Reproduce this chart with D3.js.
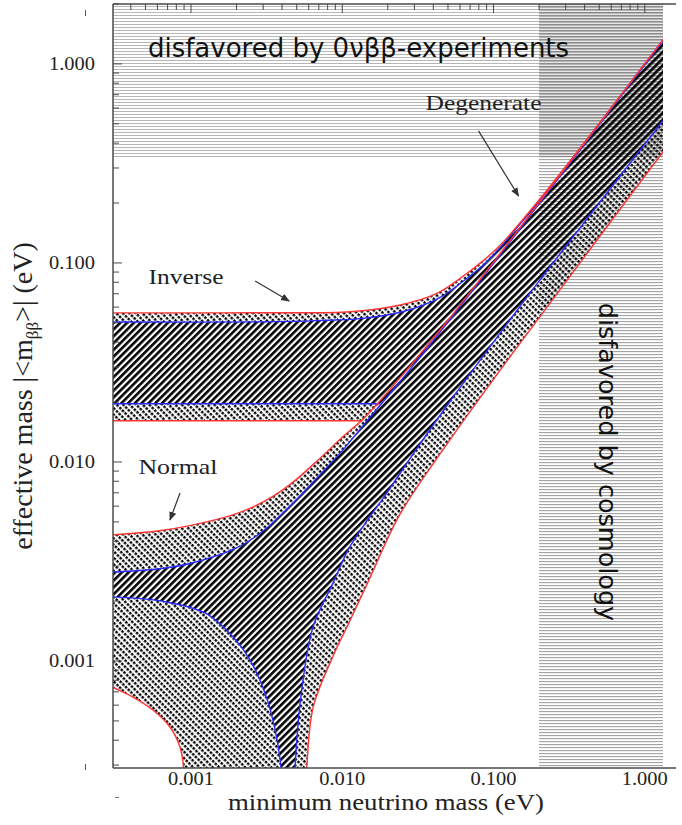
<!DOCTYPE html>
<html>
<head>
<meta charset="utf-8">
<script src="https://cdn.jsdelivr.net/npm/d3@7"></script>
<style>
  body { margin: 0; background: #fff; }
  svg { display: block; }
</style>
</head>
<body>
<script>
// Effective Majorana mass versus lightest neutrino mass (eV).
// Every boundary is a list of [minimum neutrino mass, effective mass] pairs.

// normal hierarchy, 3-sigma envelope (red)
const nhUpperRed = [[0.0003,0.0043],[0.0006,0.0045],[0.001,0.0048],[0.002,0.0055],[0.003,0.0063],[0.004,0.0072],[0.005,0.0082],[0.007,0.0103],[0.01,0.0133],[0.014,0.0167],[0.02,0.0225],[0.03,0.0322],[0.05,0.0515],[0.1,0.101],[0.2,0.201],[0.5,0.5],[1,1],[1.35,1.35]];
const nhLowerLeftRed = [[0.0003,0.00074],[0.000413,0.000659],[0.00056,0.000567],[0.000726,0.000466],[0.000845,0.00037],[0.000885,0.00031],[0.0009,0.0001]];
const nhLowerRightRed = [[0.0056,0.0001],[0.00586,0.00031],[0.00643,0.000587],[0.0087,0.00106],[0.011,0.00154],[0.015,0.00255],[0.0242,0.0055],[0.05,0.0125],[0.111,0.029],[0.2,0.053],[0.5,0.135],[1.35,0.37]];

// normal hierarchy, best-fit band (blue)
const nhUpperBlue = [[0.0003,0.0028],[0.0006,0.0029],[0.001,0.0031],[0.002,0.0037],[0.003,0.0045],[0.004,0.0055],[0.005,0.0065],[0.007,0.0085],[0.01,0.0114],[0.014,0.0155],[0.02,0.0214],[0.03,0.031],[0.05,0.0505],[0.1,0.0995],[0.2,0.198],[0.5,0.495],[1,0.99],[1.35,1.33]];
const nhLowerLeftBlue = [[0.0003,0.0021],[0.00069,0.00198],[0.00128,0.00172],[0.0019,0.00132],[0.00246,0.00101],[0.00319,0.00064],[0.00388,0.00032],[0.0041,0.0001]];
const nhLowerRightBlue = [[0.0046,0.0001],[0.0049,0.00031],[0.0053,0.00064],[0.0064,0.00148],[0.0087,0.00247],[0.011,0.00365],[0.014,0.00485],[0.0187,0.0066],[0.03,0.0112],[0.05,0.0195],[0.106,0.0425],[0.2,0.081],[0.5,0.2],[1.35,0.53]];

// inverse hierarchy (its lower edges end where the normal band takes over)
const ihUpperRed = [[0.0003,0.0561],[0.001,0.0561],[0.003,0.0562],[0.0113,0.0569],[0.0242,0.0615],[0.0426,0.0705],[0.0632,0.086],[0.0859,0.103],[0.111,0.123],[0.2,0.207],[0.5,0.503],[1.35,1.35]];
const ihLowerRed = [[0.0003,0.0161],[0.0136,0.0161]];
const ihUpperBlue = [[0.0003,0.0505],[0.003,0.0506],[0.0068,0.0513],[0.0131,0.0525],[0.0242,0.0565],[0.0426,0.066],[0.0578,0.077],[0.0859,0.098],[0.111,0.12],[0.2,0.205],[0.5,0.5],[1.35,1.345]];
const ihLowerBlue = [[0.0003,0.0196],[0.0178,0.0196]];

// excluded regions
const mbbLimit = 0.34;      // effective mass bound
const cosmoLimit = 0.2;     // minimum mass bound

// axes
const xDomain = [3.05e-4, 1.32];
const yDomain = [2.9e-4, 2.0];
const xTickValues = [0.001, 0.01, 0.1, 1];
const xTickLabels = ["0.001", "0.010", "0.100", "1.000"];
const yTickValues = [0.001, 0.01, 0.1, 1];
const yTickLabels = ["0.001", "0.010", "0.100", "1.000"];

// annotations: label anchor, arrow start, arrow end
const annotations = [
  {text: "Degenerate", at: [0.0859, 0.587], from: [0.0796, 0.4606], to: [0.1464, 0.2171], width: 116},
  {text: "Inverse",    at: [0.000927, 0.0784], from: [0.002655, 0.0812], to: [0.004457, 0.0644], width: 75},
  {text: "Normal",     at: [0.00082, 0.00871], from: [0.000846, 0.00699], to: [0.000726, 0.00511], width: 79}
];
const mbbText = {text: "disfavored by 0\u03bd\u03b2\u03b2-experiments", at: [0.000519, 1.084]};
const cosmoText = {text: "disfavored by cosmology", at: [0.495, 0.01]};

const W = 682, H = 825;
const plot = {left: 113, right: 663, top: 4, bottom: 768};

const x = d3.scaleLog().domain(xDomain).range([plot.left, plot.right]);
const y = d3.scaleLog().domain(yDomain).range([plot.bottom, plot.top]);

const svg = d3.select("body").append("svg").attr("width", W).attr("height", H);
const defs = svg.append("defs");

// horizontal-line hatches for the excluded regions
function lineHatch(id, rows) {
  const p = defs.append("pattern").attr("id", id)
    .attr("patternUnits", "userSpaceOnUse").attr("width", 8).attr("height", rows.length);
  rows.forEach((c, i) => p.append("rect").attr("y", i).attr("width", 8).attr("height", 1).attr("fill", c));
}
lineHatch("hatchMbb", ["#b6b6b6", "#ffffff", "#ffffff"]);
lineHatch("hatchCosmo", ["#a4a4a4", "#f2f2f2", "#ffffff"]);
lineHatch("hatchBoth", ["#8c8c8c", "#b4b4b4", "#e6e6e6"]);

// rising diagonal stripes (best fit) and falling dotted diagonals (3 sigma)
const stripes = defs.append("pattern").attr("id", "stripes")
  .attr("patternUnits", "userSpaceOnUse").attr("width", 4.8).attr("height", 4.8)
  .attr("patternTransform", "rotate(-45)");
stripes.append("rect").attr("width", 4.8).attr("height", 2.6).attr("fill", "#000");

const dots = defs.append("pattern").attr("id", "dots")
  .attr("patternUnits", "userSpaceOnUse").attr("width", 3.8).attr("height", 4.6)
  .attr("patternTransform", "rotate(45)");
dots.append("rect").attr("width", 2.5).attr("height", 2.4).attr("fill", "#000");

defs.append("clipPath").attr("id", "plotClip").append("rect")
  .attr("x", plot.left).attr("y", plot.top)
  .attr("width", plot.right - plot.left).attr("height", plot.bottom - plot.top);

const curve = d3.line().x(d => x(d[0])).y(d => y(d[1])).curve(d3.curveCatmullRom.alpha(0.5));
const rev = a => a.slice().reverse();
// joins several boundary pieces into one closed outline
function outline(...pieces) {
  return pieces.map((p, i) => {
    const s = curve(p);
    return i === 0 ? s : "L" + s.slice(1);
  }).join("") + "Z";
}

const nh3 = outline(nhUpperRed, rev(nhLowerRightRed), rev(nhLowerLeftRed));
const nhBest = outline(nhUpperBlue, rev(nhLowerRightBlue), rev(nhLowerLeftBlue));
const ih3 = outline(ihUpperRed, rev(nhUpperRed.filter(d => d[0] >= ihLowerRed[ihLowerRed.length - 1][0])), rev(ihLowerRed));
const ihBest = outline(ihUpperBlue, rev(nhUpperBlue.filter(d => d[0] >= ihLowerBlue[ihLowerBlue.length - 1][0])), rev(ihLowerBlue));

const mask = defs.append("mask").attr("id", "outsideBest")
  .attr("maskUnits", "userSpaceOnUse").attr("x", 0).attr("y", 0).attr("width", W).attr("height", H);
mask.append("rect").attr("width", W).attr("height", H).attr("fill", "#fff");
[nhBest, ihBest].forEach(d => mask.append("path").attr("d", d).attr("fill", "#000"));

const g = svg.append("g").attr("clip-path", "url(#plotClip)");

// excluded regions
const xc = x(cosmoLimit), ym = y(mbbLimit);
g.append("rect").attr("x", plot.left).attr("y", plot.top).attr("width", xc - plot.left).attr("height", ym - plot.top).attr("fill", "url(#hatchMbb)");
g.append("rect").attr("x", xc).attr("y", ym).attr("width", plot.right - xc).attr("height", plot.bottom - ym).attr("fill", "url(#hatchCosmo)");
g.append("rect").attr("x", xc).attr("y", plot.top).attr("width", plot.right - xc).attr("height", ym - plot.top).attr("fill", "url(#hatchBoth)");

// bands
const g3 = g.append("g").attr("mask", "url(#outsideBest)");
[ih3, nh3].forEach(d => g3.append("path").attr("d", d).attr("fill", "url(#dots)"));
[ihBest, nhBest].forEach(d => g.append("path").attr("d", d).attr("fill", "url(#stripes)"));

// band edges
const blue = "#2828ff", red = "#ff3434";
[ihLowerBlue, ihUpperBlue].forEach(a => g.append("path").attr("d", curve(a)).attr("fill", "none").attr("stroke", blue).attr("stroke-width", 1.4));
[ihLowerRed, ihUpperRed].forEach(a => g.append("path").attr("d", curve(a)).attr("fill", "none").attr("stroke", red).attr("stroke-width", 1.4));
[nhUpperBlue, nhLowerLeftBlue, nhLowerRightBlue].forEach(a => g.append("path").attr("d", curve(a)).attr("fill", "none").attr("stroke", blue).attr("stroke-width", 1.4));
[nhUpperRed, nhLowerLeftRed, nhLowerRightRed].forEach(a => g.append("path").attr("d", curve(a)).attr("fill", "none").attr("stroke", red).attr("stroke-width", 1.4));

// frame and ticks
const axisColor = "#4a4a4a";
svg.append("line").attr("x1", plot.left).attr("x2", plot.left).attr("y1", plot.top).attr("y2", plot.bottom).attr("stroke", axisColor).attr("stroke-width", 1.5);
svg.append("line").attr("x1", plot.left).attr("x2", 676).attr("y1", plot.top).attr("y2", plot.top).attr("stroke", axisColor).attr("stroke-width", 1.5);
svg.append("line").attr("x1", plot.left).attr("x2", 676).attr("y1", plot.bottom).attr("y2", plot.bottom).attr("stroke", axisColor).attr("stroke-width", 1.5);

const minor = [];
for (let e = -4; e <= 0; e++) for (let k = 1; k <= 9; k++) minor.push(+(k * Math.pow(10, e)).toPrecision(3));
const isMajor = v => Math.abs(Math.log10(v) - Math.round(Math.log10(v))) < 1e-6;

minor.filter(v => v >= xDomain[0] && v <= xDomain[1]).forEach(v => {
  const len = isMajor(v) ? 9 : 6;
  svg.append("line").attr("x1", x(v)).attr("x2", x(v)).attr("y1", plot.top).attr("y2", plot.top + len).attr("stroke", axisColor).attr("stroke-width", 1);
});
minor.filter(v => v >= yDomain[0] && v <= yDomain[1]).forEach(v => {
  const len = isMajor(v) ? 9 : 6;
  svg.append("line").attr("x1", plot.left).attr("x2", plot.left + len).attr("y1", y(v)).attr("y2", y(v)).attr("stroke", axisColor).attr("stroke-width", 1);
});

// small stray marks beside the frame
svg.append("line").attr("x1", 85.5).attr("x2", 85.5).attr("y1", 10).attr("y2", 16).attr("stroke", "#555").attr("stroke-width", 1);
svg.append("line").attr("x1", 85.5).attr("x2", 85.5).attr("y1", 764).attr("y2", 770).attr("stroke", "#555").attr("stroke-width", 1);
svg.append("line").attr("x1", 115).attr("x2", 119).attr("y1", 797.5).attr("y2", 797.5).attr("stroke", "#777").attr("stroke-width", 1);

const serif = "'Liberation Serif', 'Times New Roman', serif";
const sans = "'DejaVu Sans', Verdana, sans-serif";

xTickValues.forEach((v, i) => {
  svg.append("text").attr("x", x(v)).attr("y", 785).attr("text-anchor", "middle")
    .attr("textLength", 46).attr("lengthAdjust", "spacingAndGlyphs")
    .style("font-family", serif).style("font-size", "19px").attr("fill", "#222").text(xTickLabels[i]);
});
yTickValues.forEach((v, i) => {
  svg.append("text").attr("x", 95).attr("y", y(v) + 6).attr("text-anchor", "end")
    .attr("textLength", 46).attr("lengthAdjust", "spacingAndGlyphs")
    .style("font-family", serif).style("font-size", "19px").attr("fill", "#222").text(yTickLabels[i]);
});

svg.append("text").attr("x", (plot.left + plot.right) / 2 - 2).attr("y", 810).attr("text-anchor", "middle")
  .attr("textLength", 316).attr("lengthAdjust", "spacingAndGlyphs")
  .style("font-family", serif).style("font-size", "24px").attr("fill", "#222").text("minimum neutrino mass (eV)");

const yt = svg.append("text").attr("transform", "translate(32,396) rotate(-90)").attr("text-anchor", "middle")
  .style("font-family", serif).style("font-size", "28px").attr("fill", "#222");
yt.append("tspan").text("effective mass |<m");
yt.append("tspan").attr("dy", 6).style("font-size", "17px").text("\u03b2\u03b2");
yt.append("tspan").attr("dy", -6).text(">| (eV)");

// region labels
svg.append("text").attr("x", x(mbbText.at[0])).attr("y", y(mbbText.at[1]))
  .style("font-family", sans).style("font-size", "26px").attr("fill", "#111").text(mbbText.text);
svg.append("text").attr("transform", `translate(${x(cosmoText.at[0])},${y(cosmoText.at[1])}) rotate(90)`)
  .attr("text-anchor", "middle")
  .style("font-family", sans).style("font-size", "25.5px").attr("fill", "#111").text(cosmoText.text);

// hierarchy labels with arrows
defs.append("marker").attr("id", "head").attr("viewBox", "0 0 10 10").attr("refX", 9).attr("refY", 5)
  .attr("markerWidth", 9).attr("markerHeight", 9).attr("markerUnits", "userSpaceOnUse").attr("orient", "auto")
  .append("path").attr("d", "M0,1 L10,5 L0,9 Z").attr("fill", "#333");
annotations.forEach(a => {
  svg.append("text").attr("x", x(a.at[0])).attr("y", y(a.at[1])).attr("text-anchor", "middle")
    .attr("textLength", a.width).attr("lengthAdjust", "spacingAndGlyphs")
    .style("font-family", serif).style("font-size", "21px").attr("fill", "#222").text(a.text);
  svg.append("line").attr("x1", x(a.from[0])).attr("y1", y(a.from[1])).attr("x2", x(a.to[0])).attr("y2", y(a.to[1]))
    .attr("stroke", "#333").attr("stroke-width", 1.2).attr("marker-end", "url(#head)");
});
</script>
</body>
</html>
